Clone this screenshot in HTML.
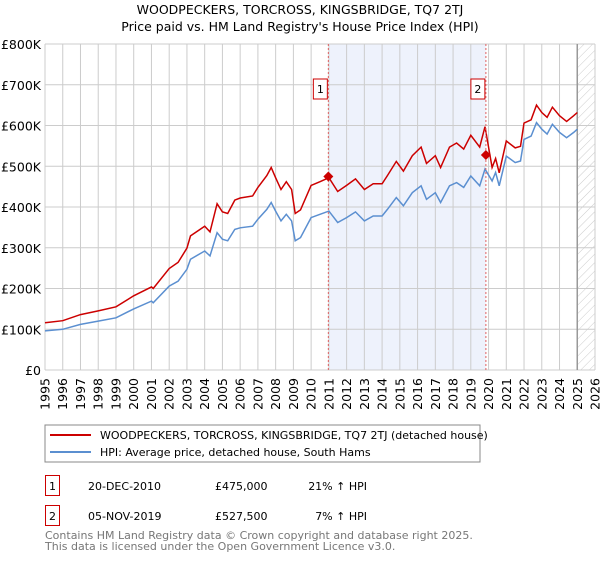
<!DOCTYPE html>
<html><head><meta charset="utf-8"><style>
body{margin:0;width:600px;height:560px;background:#fff;font-family:"DejaVu Sans","Liberation Sans",sans-serif;overflow:hidden}
svg text{font-family:"DejaVu Sans","Liberation Sans",sans-serif}
</style></head><body>
<svg width="600" height="560">
<defs><pattern id="hatch" width="6" height="6" patternUnits="userSpaceOnUse" patternTransform="rotate(45)"><line x1="0" y1="0" x2="0" y2="6" stroke="#ccc" stroke-width="1"/></pattern></defs>
<text x="300" y="14" text-anchor="middle" font-size="12.5">WOODPECKERS, TORCROSS, KINGSBRIDGE, TQ7 2TJ</text>
<text x="300" y="31" text-anchor="middle" font-size="12.5">Price paid vs. HM Land Registry's House Price Index (HPI)</text>
<g id="grid"></g><g id="series"></g><g id="axes"></g>
<rect x="45" y="425" width="435" height="37" fill="none" stroke="#888"/>
<line x1="50" y1="435" x2="91" y2="435" stroke="#cc0000" stroke-width="2"/>
<text x="100" y="439" font-size="11">WOODPECKERS, TORCROSS, KINGSBRIDGE, TQ7 2TJ (detached house)</text>
<line x1="50" y1="452" x2="91" y2="452" stroke="#5b8fd0" stroke-width="2"/>
<text x="100" y="456" font-size="11">HPI: Average price, detached house, South Hams</text>
<g font-size="11">
<rect x="45.5" y="475.5" width="14" height="20" fill="none" stroke="#cc0000"/>
<text x="52.5" y="490" text-anchor="middle">1</text>
<text x="88" y="490">20-DEC-2010</text><text x="215" y="490">£475,000</text><text x="367" y="490" text-anchor="end">21% ↑ HPI</text>
<rect x="45.5" y="505.5" width="14" height="20" fill="none" stroke="#cc0000"/>
<text x="52.5" y="520" text-anchor="middle">2</text>
<text x="88" y="520">05-NOV-2019</text><text x="215" y="520">£527,500</text><text x="367" y="520" text-anchor="end">7% ↑ HPI</text>
</g>
<text x="45" y="539" font-size="11" fill="#777">Contains HM Land Registry data © Crown copyright and database right 2025.</text>
<text x="45" y="550" font-size="11" fill="#777">This data is licensed under the Open Government Licence v3.0.</text>
</svg>
<script>
const years=[1995,1996,1997,1998,1999,2000,2001,2001.1,2002,2002.5,2003,2003.2,2004,2004.3,2004.7,2005,2005.3,2005.7,2006,2006.7,2007,2007.5,2007.75,2008,2008.3,2008.6,2008.9,2009.1,2009.4,2010,2010.5,2011,2011.5,2012,2012.5,2013,2013.5,2014,2014.3,2014.8,2015.2,2015.7,2016.2,2016.5,2017,2017.3,2017.8,2018.2,2018.6,2019,2019.5,2019.8,2020.2,2020.4,2020.6,2021,2021.5,2021.8,2022,2022.4,2022.7,2023,2023.3,2023.6,2024,2024.4,2024.8,2025];
const hpi=[96,100,112,120,128,150,169,165,206,218,247,272,292,280,337,321,317,345,349,353,370,394,411,390,366,382,366,317,325,374,382,390,362,374,388,366,378,378,394,423,403,435,452,419,435,411,452,460,448,476,452,493,464,485,452,525,509,513,566,574,607,591,579,603,583,570,583,591];
const price=[116,121,136,145,155,182,204,200,249,264,299,329,353,339,408,388,384,417,422,427,448,477,497,472,443,462,443,384,393,453,462,472,438,453,469,443,457,457,477,512,488,526,547,507,526,497,547,557,542,576,547,597,497,519,484,562,545,549,606,614,650,632,620,645,624,610,624,632];
const yTicks=[0,100,200,300,400,500,600,700,800];
const yTickLabels=["£0","£100K","£200K","£300K","£400K","£500K","£600K","£700K","£800K"];
const xTicks=[1995,1996,1997,1998,1999,2000,2001,2002,2003,2004,2005,2006,2007,2008,2009,2010,2011,2012,2013,2014,2015,2016,2017,2018,2019,2020,2021,2022,2023,2024,2025,2026];
const sales=[{t:2010.97,v:475,label:"1"},{t:2019.85,v:527.5,label:"2"}];
const dataEnd=2025.0;
const X0=45,X1=595,Y0=370,Y1=44;
const x=t=>X0+(t-1995)/(2026-1995)*(X1-X0);
const y=v=>Y0-v/800*(Y0-Y1);
const NS="http://www.w3.org/2000/svg";
function mk(tag,attrs,parent){const e=document.createElementNS(NS,tag);for(const k in attrs)e.setAttribute(k,attrs[k]);parent.appendChild(e);return e;}
const grid=document.getElementById('grid'),ser=document.getElementById('series'),ax=document.getElementById('axes');
let r=mk('rect',{x:x(sales[0].t),y:Y1,width:x(sales[1].t)-x(sales[0].t),height:Y0-Y1,fill:'#eef2fc'},grid);


r=mk('rect',{x:x(dataEnd),y:Y1,width:X1-x(dataEnd),height:Y0-Y1,fill:'url(#hatch)'},grid);


yTicks.forEach((v,i)=>{const l=mk('line',{x1:X0,x2:X1,y1:y(v),y2:y(v),stroke:'#ccc'},grid);


const t=mk('text',{x:X0-4,y:y(v)+5,'text-anchor':'end','font-size':'12.5'},ax);t.textContent=yTickLabels[i];

});
xTicks.forEach(yr=>{const l=mk('line',{x1:x(yr),x2:x(yr),y1:Y1,y2:Y0,stroke:'#ccc'},grid);


const t=mk('text',{x:0,y:0,'text-anchor':'end','font-size':'12.5',transform:`translate(${x(yr)+4.5},378) rotate(-90)`},ax);t.textContent=yr;

});
let l=mk('line',{x1:x(dataEnd),x2:x(dataEnd),y1:Y1,y2:Y0,stroke:'#999','stroke-width':1.5},grid);


const pth=arr=>arr.map((v,i)=>(i?'L':'M')+x(years[i]).toFixed(1)+','+y(v).toFixed(1)).join('');
let p=mk('path',{d:pth(hpi),fill:'none',stroke:'#5b8fd0','stroke-width':1.5},ser);


p=mk('path',{d:pth(price),fill:'none',stroke:'#cc0000','stroke-width':1.5},ser);


sales.forEach(s=>{const d=mk('line',{x1:x(s.t),x2:x(s.t),y1:Y1,y2:Y0,stroke:'#e06060','stroke-dasharray':'2,2'},ser);


const cx=x(s.t),cy=y(s.v);
const m=mk('path',{d:`M${cx},${cy-5}L${cx+5},${cy}L${cx},${cy+5}L${cx-5},${cy}Z`,fill:'#cc0000'},ser);


const b=mk('rect',{x:cx-15,y:79,width:14,height:20,fill:'#fff',stroke:'#cc0000'},ser);


const t=mk('text',{x:cx-8,y:93,'text-anchor':'middle','font-size':'11'},ser);t.textContent=s.label;

});
</script>
</body></html>
